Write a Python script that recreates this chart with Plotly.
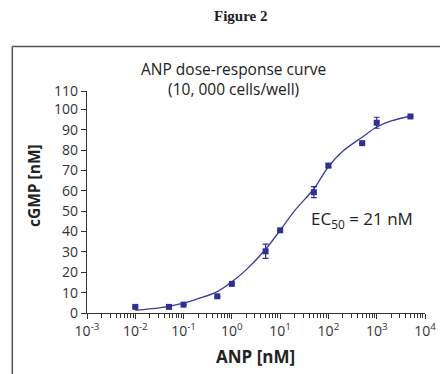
import plotly.graph_objects as go

# ---- data ----
anp_nM = [0.01, 0.05, 0.1, 0.5, 1, 5, 10, 50, 100, 500, 1000, 5000]
cgmp_nM = [3.0, 3.0, 4.1, 8.2, 14.3, 30.3, 40.6, 59.3, 72.4, 83.4, 93.4, 96.5]
cgmp_err = [0, 0.8, 0, 0, 0, 3.5, 0, 2.7, 1.0, 0, 2.7, 0]

# fitted curve, points
curve_x = [0.01, 0.02, 0.05, 0.1, 0.2, 0.5, 1, 2, 5, 10, 20, 50, 100, 200, 500, 1000, 2000, 5000]
curve_y = [1.3, 2.0, 3.3, 4.8, 7.0, 10.5, 15.3, 21.3, 31.3, 40.6, 50.3, 61.0, 71.8, 79.5, 86.3, 91.3, 94.3, 96.6]

x_tickvals = [1e-3, 1e-2, 1e-1, 1e0, 1e1, 1e2, 1e3, 1e4]
x_ticktext = ["10<sup>-3</sup>", "10<sup>-2</sup>", "10<sup>-1</sup>", "10<sup>0</sup>",
              "10<sup>1</sup>", "10<sup>2</sup>", "10<sup>3</sup>", "10<sup>4</sup>"]
y_tickvals = [0, 10, 20, 30, 40, 50, 60, 70, 80, 90, 100, 109]
y_ticktext = ["0", "10", "20", "30", "40", "50", "60", "70", "80", "90", "100", "110"]

BLUE = "#2e3192"
LINE = "#3b3d9c"
FONT = "Open Sans"
TXT = "#222222"

fig = go.Figure()
fig.add_trace(go.Scatter(x=curve_x, y=curve_y, mode="lines",
                         line=dict(color=LINE, width=1.3, shape="spline"),
                         hoverinfo="skip", showlegend=False))
fig.add_trace(go.Scatter(x=anp_nM, y=cgmp_nM, mode="markers",
                         marker=dict(symbol="square", size=6, color=BLUE),
                         error_y=dict(type="data", array=cgmp_err, visible=True,
                                      color=BLUE, thickness=1.2, width=3),
                         showlegend=False))

# page body adds an 8 px offset, so the figure is 8 px smaller than the window
fig.update_layout(
    width=440, height=366,
    margin=dict(l=79, r=23, t=82.7, b=61.3, autoexpand=False),
    paper_bgcolor="white", plot_bgcolor="white",
    font=dict(family=FONT, color=TXT, size=14),
    xaxis=dict(type="log", range=[-3, 4], tickvals=x_tickvals, ticktext=x_ticktext,
               automargin=False,
               showgrid=False, zeroline=False, showline=True, linecolor="#333",
               linewidth=1.2, ticks="outside", ticklen=5, tickcolor="#333",
               tickfont=dict(size=14, family=FONT, color="#333"),
               minor=dict(ticks="outside", ticklen=4, tickcolor="#333", dtick="D1", showgrid=False)),
    yaxis=dict(range=[0, 109], tickvals=y_tickvals, ticktext=y_ticktext,
               automargin=False,
               showgrid=False, zeroline=False, showline=True, linecolor="#333",
               linewidth=1.2, ticks="outside", ticklen=5, tickcolor="#333",
               tickfont=dict(size=14, family=FONT, color="#333")),
    annotations=[
        dict(text="<b>Figure 2</b>", xref="paper", yref="paper", x=0.453, y=1.34,
             yanchor="middle", xanchor="center", showarrow=False,
             font=dict(family="Liberation Serif", size=15, color=TXT)),
        dict(text="ANP dose-response curve<br>(10, 000 cells/well)", xref="paper", yref="paper",
             x=0.432, y=1.053, yanchor="middle", xanchor="center", align="center",
             showarrow=False, font=dict(family=FONT, size=15.5, color=TXT)),
        dict(text="EC<sub>50</sub> = 21 nM", x=2.696, y=46, xref="x", yref="y",
             xanchor="center", yanchor="middle", showarrow=False,
             font=dict(family=FONT, size=17, color=TXT)),
        dict(text="<b>cGMP [nM]</b>", textangle=-90, xref="paper", yref="paper",
             x=-0.155, y=0.575, xanchor="center", yanchor="middle", showarrow=False,
             font=dict(family=FONT, size=15.5, color=TXT)),
        dict(text="<b>ANP [nM]</b>", xref="paper", yref="paper",
             x=0.4975, y=-0.195, xanchor="center", yanchor="middle", showarrow=False,
             font=dict(family=FONT, size=17, color=TXT)),
    ],
    shapes=[
        dict(type="line", xref="paper", yref="paper", x0=-0.221, x1=1.2, y0=1.201, y1=1.201,
             line=dict(color="#555", width=1.5)),
        dict(type="line", xref="paper", yref="paper", x0=-0.221, x1=-0.221, y0=1.201, y1=-0.5,
             line=dict(color="#555", width=1.5)),
    ],
)

fig.write_html("out.html")
